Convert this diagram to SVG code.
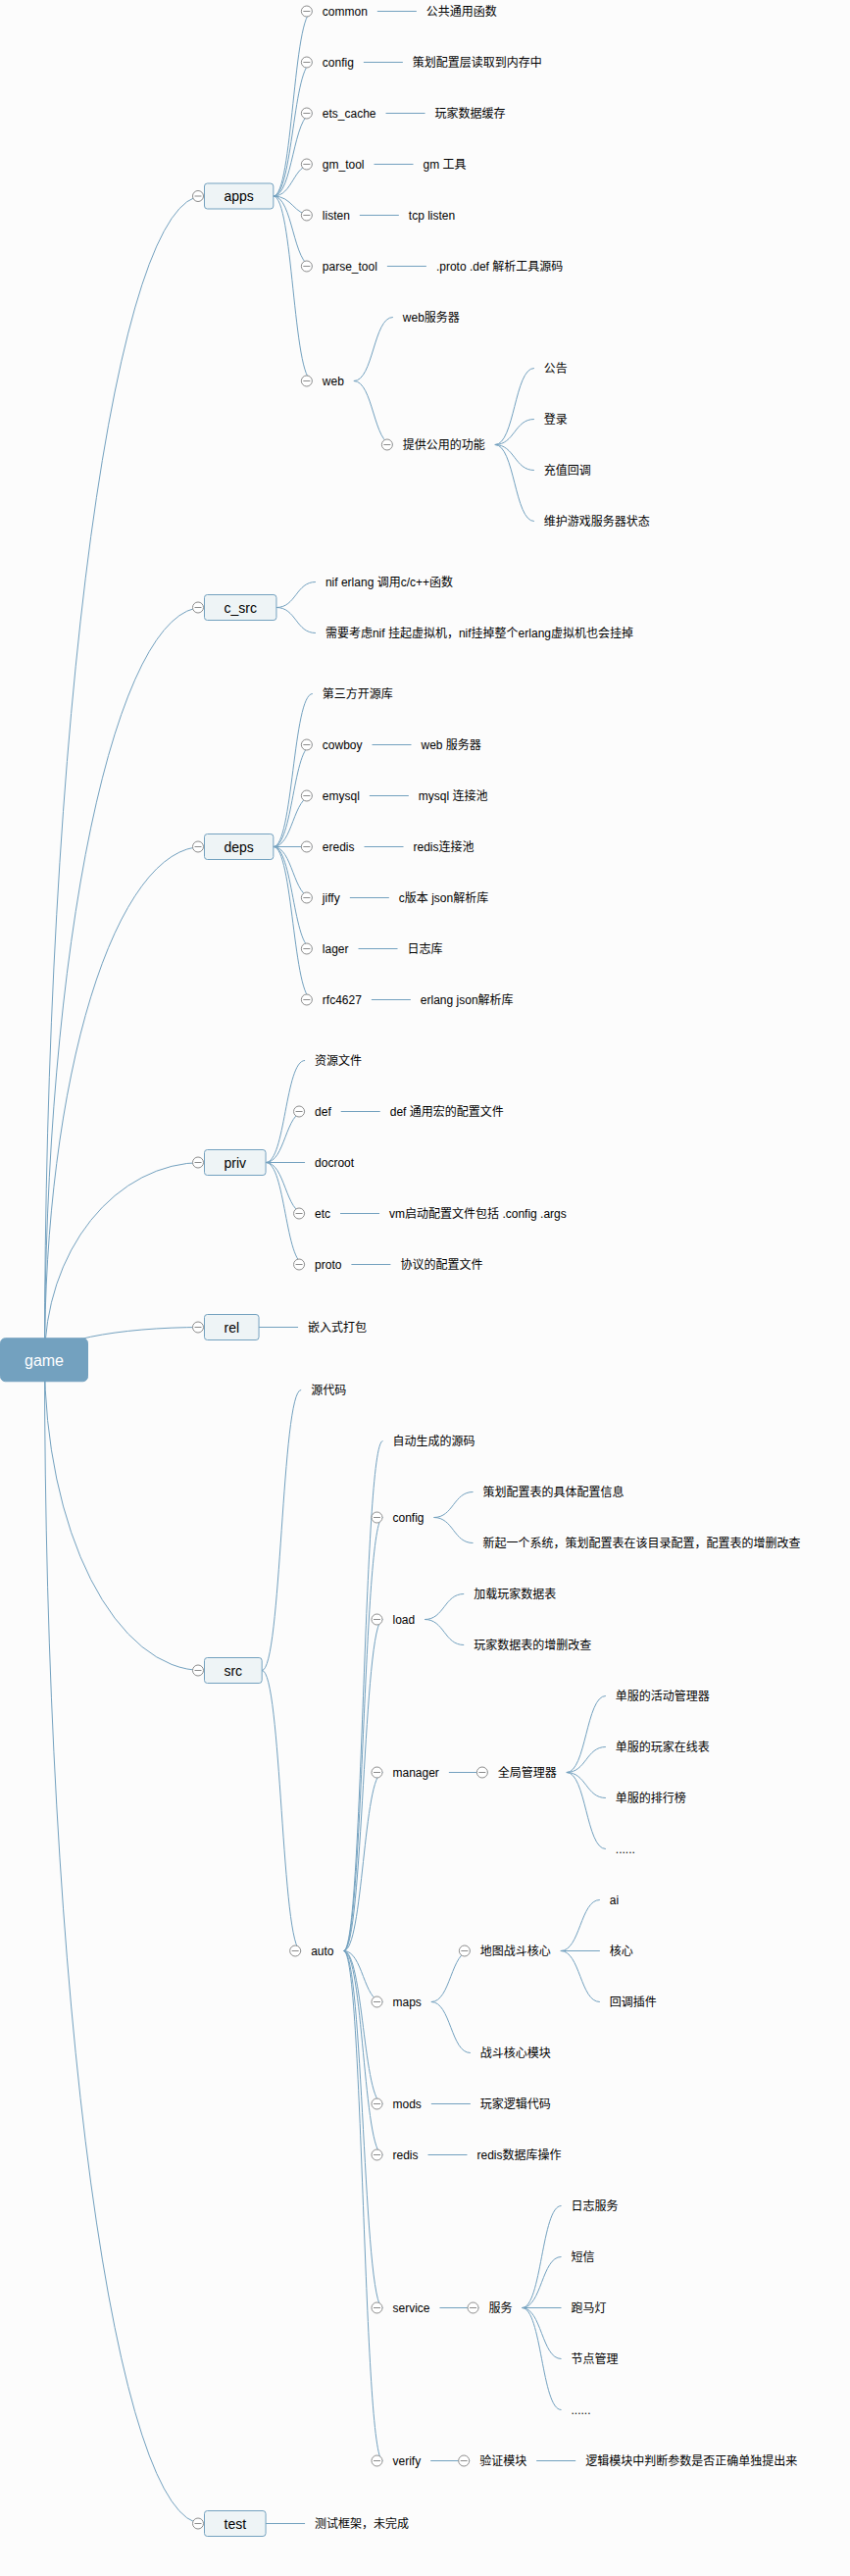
<svg xmlns="http://www.w3.org/2000/svg" xmlns:xlink="http://www.w3.org/1999/xlink" width="867" height="2627" viewBox="0 0 867 2627">
<style>
.bg{fill:#fcfcfc}
.c{fill:none;stroke:#73a1bf;stroke-width:1}
.ex circle{fill:#fff;stroke:#8c8c8c;stroke-width:1}
.ex path{stroke:#8c8c8c;stroke-width:1}
.root rect{fill:#73a1bf;stroke:#73a1bf}
.root text{fill:#fff;font-size:16px;text-anchor:middle}
.main rect{fill:#eef4f6;stroke:#73a1bf;stroke-width:1}
.main text{fill:#000;font-size:14px;text-anchor:middle}
text{font-family:"Liberation Sans","Noto Sans CJK SC",sans-serif;font-size:12px;fill:#000}
</style>
<defs>
<g id="ex" class="ex"><circle r="5.5"/><path d="M-3.5 0H3.5"/></g>
</defs>
<rect class="bg" x="0" y="0" width="867" height="2627"/>
<g id="connectors">
<!-- root arcs -->
<path class="c" d="M45.5 1386.75A161 1186.75 0 0 1 206.5 200"/>
<path class="c" d="M45.5 1386.75A161 767.25 0 0 1 206.5 619.5"/>
<path class="c" d="M45.5 1386.75A161 523.25 0 0 1 206.5 863.5"/>
<path class="c" d="M45.5 1386.75A161 201.25 0 0 1 206.5 1185.5"/>
<path class="c" d="M45.5 1386.75A161 33.25 0 0 1 206.5 1353.5"/>
<path class="c" d="M45.5 1386.75A161 316.75 0 0 0 206.5 1703.5"/>
<path class="c" d="M45.5 1386.75A161 1186.75 0 0 0 206.5 2573.5"/>
<!-- apps -->
<path class="c" d="M278.85 200C298.85 200 298.85 11.5 318.85 11.5"/>
<path class="c" d="M278.85 200C298.85 200 298.85 63.5 318.85 63.5"/>
<path class="c" d="M278.85 200C298.85 200 298.85 115.5 318.85 115.5"/>
<path class="c" d="M278.85 200C298.85 200 298.85 167.5 318.85 167.5"/>
<path class="c" d="M278.85 200C298.85 200 298.85 219.5 318.85 219.5"/>
<path class="c" d="M278.85 200C298.85 200 298.85 271.5 318.85 271.5"/>
<path class="c" d="M278.85 200C298.85 200 298.85 388.5 318.85 388.5"/>
<path class="c" d="M384.85 11.5H424.85"/>
<path class="c" d="M370.87 63.5H410.87"/>
<path class="c" d="M393.55 115.5H433.55"/>
<path class="c" d="M381.53 167.5H421.53"/>
<path class="c" d="M366.85 219.5H406.85"/>
<path class="c" d="M394.88 271.5H434.88"/>
<path class="c" d="M360.86 388.5C380.86 388.5 380.86 323.5 400.86 323.5"/>
<path class="c" d="M360.86 388.5C380.86 388.5 380.86 453.5 400.86 453.5"/>
<path class="c" d="M504.86 453.5C524.86 453.5 524.86 375.5 544.86 375.5"/>
<path class="c" d="M504.86 453.5C524.86 453.5 524.86 427.5 544.86 427.5"/>
<path class="c" d="M504.86 453.5C524.86 453.5 524.86 479.5 544.86 479.5"/>
<path class="c" d="M504.86 453.5C524.86 453.5 524.86 531.5 544.86 531.5"/>
<!-- c_src -->
<path class="c" d="M281.95 619.5C301.95 619.5 301.95 593.5 321.95 593.5"/>
<path class="c" d="M281.95 619.5C301.95 619.5 301.95 645.5 321.95 645.5"/>
<!-- deps -->
<path class="c" d="M278.85 863.5C298.85 863.5 298.85 707.5 318.85 707.5"/>
<path class="c" d="M278.85 863.5C298.85 863.5 298.85 759.5 318.85 759.5"/>
<path class="c" d="M278.85 863.5C298.85 863.5 298.85 811.5 318.85 811.5"/>
<path class="c" d="M278.85 863.5H318.85"/>
<path class="c" d="M278.85 863.5C298.85 863.5 298.85 915.5 318.85 915.5"/>
<path class="c" d="M278.85 863.5C298.85 863.5 298.85 967.5 318.85 967.5"/>
<path class="c" d="M278.85 863.5C298.85 863.5 298.85 1019.5 318.85 1019.5"/>
<path class="c" d="M379.53 759.5H419.53"/>
<path class="c" d="M376.85 811.5H416.85"/>
<path class="c" d="M371.53 863.5H411.53"/>
<path class="c" d="M356.85 915.5H396.85"/>
<path class="c" d="M365.53 967.5H405.53"/>
<path class="c" d="M378.87 1019.5H418.87"/>
<!-- priv -->
<path class="c" d="M271.05 1185.5C291.05 1185.5 291.05 1081.5 311.05 1081.5"/>
<path class="c" d="M271.05 1185.5C291.05 1185.5 291.05 1133.5 311.05 1133.5"/>
<path class="c" d="M271.05 1185.5H311.05"/>
<path class="c" d="M271.05 1185.5C291.05 1185.5 291.05 1237.5 311.05 1237.5"/>
<path class="c" d="M271.05 1185.5C291.05 1185.5 291.05 1289.5 311.05 1289.5"/>
<path class="c" d="M347.73 1133.5H387.73"/>
<path class="c" d="M347.05 1237.5H387.05"/>
<path class="c" d="M358.4 1289.5H398.4"/>
<!-- rel -->
<path class="c" d="M264.05 1353.5H304.05"/>
<!-- src -->
<path class="c" d="M267.16 1703.5C287.16 1703.5 287.16 1417.5 307.16 1417.5"/>
<path class="c" d="M267.16 1703.5C287.16 1703.5 287.16 1989.5 307.16 1989.5"/>
<path class="c" d="M350.51 1989.5C370.51 1989.5 370.51 1469.5 390.51 1469.5"/>
<path class="c" d="M350.51 1989.5C370.51 1989.5 370.51 1547.5 390.51 1547.5"/>
<path class="c" d="M350.51 1989.5C370.51 1989.5 370.51 1651.5 390.51 1651.5"/>
<path class="c" d="M350.51 1989.5C370.51 1989.5 370.51 1807.5 390.51 1807.5"/>
<path class="c" d="M350.51 1989.5C370.51 1989.5 370.51 2041.5 390.51 2041.5"/>
<path class="c" d="M350.51 1989.5C370.51 1989.5 370.51 2145.5 390.51 2145.5"/>
<path class="c" d="M350.51 1989.5C370.51 1989.5 370.51 2197.5 390.51 2197.5"/>
<path class="c" d="M350.51 1989.5C370.51 1989.5 370.51 2353.5 390.51 2353.5"/>
<path class="c" d="M350.51 1989.5C370.51 1989.5 370.51 2509.5 390.51 2509.5"/>
<path class="c" d="M442.53 1547.5C462.53 1547.5 462.53 1521.5 482.53 1521.5"/>
<path class="c" d="M442.53 1547.5C462.53 1547.5 462.53 1573.5 482.53 1573.5"/>
<path class="c" d="M433.19 1651.5C453.19 1651.5 453.19 1625.5 473.19 1625.5"/>
<path class="c" d="M433.19 1651.5C453.19 1651.5 453.19 1677.5 473.19 1677.5"/>
<path class="c" d="M457.86 1807.5H497.86"/>
<path class="c" d="M577.86 1807.5C597.86 1807.5 597.86 1729.5 617.86 1729.5"/>
<path class="c" d="M577.86 1807.5C597.86 1807.5 597.86 1781.5 617.86 1781.5"/>
<path class="c" d="M577.86 1807.5C597.86 1807.5 597.86 1833.5 617.86 1833.5"/>
<path class="c" d="M577.86 1807.5C597.86 1807.5 597.86 1885.5 617.86 1885.5"/>
<path class="c" d="M439.85 2041.5C459.85 2041.5 459.85 1989.5 479.85 1989.5"/>
<path class="c" d="M439.85 2041.5C459.85 2041.5 459.85 2093.5 479.85 2093.5"/>
<path class="c" d="M571.85 1989.5C591.85 1989.5 591.85 1937.5 611.85 1937.5"/>
<path class="c" d="M571.85 1989.5H611.85"/>
<path class="c" d="M571.85 1989.5C591.85 1989.5 591.85 2041.5 611.85 2041.5"/>
<path class="c" d="M439.85 2145.5H479.85"/>
<path class="c" d="M436.51 2197.5H476.51"/>
<path class="c" d="M448.51 2353.5H488.51"/>
<path class="c" d="M532.51 2353.5C552.51 2353.5 552.51 2249.5 572.51 2249.5"/>
<path class="c" d="M532.51 2353.5C552.51 2353.5 552.51 2301.5 572.51 2301.5"/>
<path class="c" d="M532.51 2353.5H572.51"/>
<path class="c" d="M532.51 2353.5C552.51 2353.5 552.51 2405.5 572.51 2405.5"/>
<path class="c" d="M532.51 2353.5C552.51 2353.5 552.51 2457.5 572.51 2457.5"/>
<path class="c" d="M439.18 2509.5H479.18"/>
<path class="c" d="M547.18 2509.5H587.18"/>
<!-- test -->
<path class="c" d="M271.07 2573.5H311.07"/>
</g>
<g id="node-game" class="root"><rect x="0.5" y="1364.75" width="89" height="44" rx="5"/><text x="45" y="1392.5">game</text></g>
<g id="node-apps" class="main"><use xlink:href="#ex" x="202" y="200"/><rect x="208.5" y="187" width="70.35" height="26" rx="3"/><text x="243.7" y="205">apps</text></g>
<g id="node-apps-common"><use xlink:href="#ex" x="312.85" y="11.5"/><text x="328.85" y="16">common</text><text x="434.85" y="16">公共通用函数</text></g>
<g id="node-apps-config"><use xlink:href="#ex" x="312.85" y="63.5"/><text x="328.85" y="68">config</text><text x="420.87" y="68">策划配置层读取到内存中</text></g>
<g id="node-apps-ets"><use xlink:href="#ex" x="312.85" y="115.5"/><text x="328.85" y="120">ets_cache</text><text x="443.55" y="120">玩家数据缓存</text></g>
<g id="node-apps-gm"><use xlink:href="#ex" x="312.85" y="167.5"/><text x="328.85" y="172">gm_tool</text><text x="431.53" y="172">gm 工具</text></g>
<g id="node-apps-listen"><use xlink:href="#ex" x="312.85" y="219.5"/><text x="328.85" y="224">listen</text><text x="416.85" y="224">tcp listen</text></g>
<g id="node-apps-parse"><use xlink:href="#ex" x="312.85" y="271.5"/><text x="328.85" y="276">parse_tool</text><text x="444.88" y="276">.proto .def 解析工具源码</text></g>
<g id="node-apps-web"><use xlink:href="#ex" x="312.85" y="388.5"/><text x="328.85" y="393">web</text><text x="410.86" y="328">web服务器</text></g>
<g id="node-web-func"><use xlink:href="#ex" x="394.86" y="453.5"/><text x="410.86" y="458">提供公用的功能</text><text x="554.86" y="380">公告</text><text x="554.86" y="432">登录</text><text x="554.86" y="484">充值回调</text><text x="554.86" y="536">维护游戏服务器状态</text></g>
<g id="node-c_src" class="main"><use xlink:href="#ex" x="202" y="619.5"/><rect x="208.5" y="606.5" width="73.45" height="26" rx="3"/><text x="245.2" y="624.5">c_src</text></g>
<g id="node-c_src-items"><text x="331.95" y="598">nif erlang 调用c/c++函数</text><text x="331.95" y="650">需要考虑nif 挂起虚拟机，nif挂掉整个erlang虚拟机也会挂掉</text></g>
<g id="node-deps" class="main"><use xlink:href="#ex" x="202" y="863.5"/><rect x="208.5" y="850.5" width="70.35" height="26" rx="3"/><text x="243.7" y="868.5">deps</text></g>
<g id="node-deps-items">
<text x="328.85" y="712">第三方开源库</text>
<use xlink:href="#ex" x="312.85" y="759.5"/><text x="328.85" y="764">cowboy</text><text x="429.53" y="764">web 服务器</text>
<use xlink:href="#ex" x="312.85" y="811.5"/><text x="328.85" y="816">emysql</text><text x="426.85" y="816">mysql 连接池</text>
<use xlink:href="#ex" x="312.85" y="863.5"/><text x="328.85" y="868">eredis</text><text x="421.53" y="868">redis连接池</text>
<use xlink:href="#ex" x="312.85" y="915.5"/><text x="328.85" y="920">jiffy</text><text x="406.85" y="920">c版本 json解析库</text>
<use xlink:href="#ex" x="312.85" y="967.5"/><text x="328.85" y="972">lager</text><text x="415.53" y="972">日志库</text>
<use xlink:href="#ex" x="312.85" y="1019.5"/><text x="328.85" y="1024">rfc4627</text><text x="428.87" y="1024">erlang json解析库</text>
</g>
<g id="node-priv" class="main"><use xlink:href="#ex" x="202" y="1185.5"/><rect x="208.5" y="1172.5" width="62.55" height="26" rx="3"/><text x="239.8" y="1190.5">priv</text></g>
<g id="node-priv-items">
<text x="321.05" y="1086">资源文件</text>
<use xlink:href="#ex" x="305.05" y="1133.5"/><text x="321.05" y="1138">def</text><text x="397.73" y="1138">def 通用宏的配置文件</text>
<text x="321.05" y="1190">docroot</text>
<use xlink:href="#ex" x="305.05" y="1237.5"/><text x="321.05" y="1242">etc</text><text x="397.05" y="1242">vm启动配置文件包括 .config .args</text>
<use xlink:href="#ex" x="305.05" y="1289.5"/><text x="321.05" y="1294">proto</text><text x="408.4" y="1294">协议的配置文件</text>
</g>
<g id="node-rel" class="main"><use xlink:href="#ex" x="202" y="1353.5"/><rect x="208.5" y="1340.5" width="55.55" height="26" rx="3"/><text x="236.3" y="1358.5">rel</text></g>
<g id="node-rel-items"><text x="314.05" y="1358">嵌入式打包</text></g>
<g id="node-src" class="main"><use xlink:href="#ex" x="202" y="1703.5"/><rect x="208.5" y="1690.5" width="58.66" height="26" rx="3"/><text x="237.8" y="1708.5">src</text></g>
<g id="node-src-items">
<text x="317.16" y="1422">源代码</text>
<use xlink:href="#ex" x="301.16" y="1989.5"/><text x="317.16" y="1994">auto</text>
</g>
<g id="node-auto-items">
<text x="400.51" y="1474">自动生成的源码</text>
<use xlink:href="#ex" x="384.51" y="1547.5"/><text x="400.51" y="1552">config</text>
<text x="492.53" y="1526">策划配置表的具体配置信息</text>
<text x="492.53" y="1578">新起一个系统，策划配置表在该目录配置，配置表的增删改查</text>
<use xlink:href="#ex" x="384.51" y="1651.5"/><text x="400.51" y="1656">load</text>
<text x="483.19" y="1630">加载玩家数据表</text>
<text x="483.19" y="1682">玩家数据表的增删改查</text>
</g>
<g id="node-manager">
<use xlink:href="#ex" x="384.51" y="1807.5"/><text x="400.51" y="1812">manager</text>
<use xlink:href="#ex" x="491.86" y="1807.5"/><text x="507.86" y="1812">全局管理器</text>
<text x="627.86" y="1734">单服的活动管理器</text>
<text x="627.86" y="1786">单服的玩家在线表</text>
<text x="627.86" y="1838">单服的排行榜</text>
<text x="627.86" y="1890">......</text>
</g>
<g id="node-maps">
<use xlink:href="#ex" x="384.51" y="2041.5"/><text x="400.51" y="2046">maps</text>
<use xlink:href="#ex" x="473.85" y="1989.5"/><text x="489.85" y="1994">地图战斗核心</text>
<text x="621.85" y="1942">ai</text>
<text x="621.85" y="1994">核心</text>
<text x="621.85" y="2046">回调插件</text>
<text x="489.85" y="2098">战斗核心模块</text>
</g>
<g id="node-mods"><use xlink:href="#ex" x="384.51" y="2145.5"/><text x="400.51" y="2150">mods</text><text x="489.85" y="2150">玩家逻辑代码</text></g>
<g id="node-redis"><use xlink:href="#ex" x="384.51" y="2197.5"/><text x="400.51" y="2202">redis</text><text x="486.51" y="2202">redis数据库操作</text></g>
<g id="node-service">
<use xlink:href="#ex" x="384.51" y="2353.5"/><text x="400.51" y="2358">service</text>
<use xlink:href="#ex" x="482.51" y="2353.5"/><text x="498.51" y="2358">服务</text>
<text x="582.51" y="2254">日志服务</text>
<text x="582.51" y="2306">短信</text>
<text x="582.51" y="2358">跑马灯</text>
<text x="582.51" y="2410">节点管理</text>
<text x="582.51" y="2462">......</text>
</g>
<g id="node-verify">
<use xlink:href="#ex" x="384.51" y="2509.5"/><text x="400.51" y="2514">verify</text>
<use xlink:href="#ex" x="473.18" y="2509.5"/><text x="489.18" y="2514">验证模块</text>
<text x="597.18" y="2514">逻辑模块中判断参数是否正确单独提出来</text>
</g>
<g id="node-test" class="main"><use xlink:href="#ex" x="202" y="2573.5"/><rect x="208.5" y="2560.5" width="62.57" height="26" rx="3"/><text x="239.8" y="2578.5">test</text></g>
<g id="node-test-items"><text x="321.07" y="2578">测试框架，未完成</text></g>
</svg>
